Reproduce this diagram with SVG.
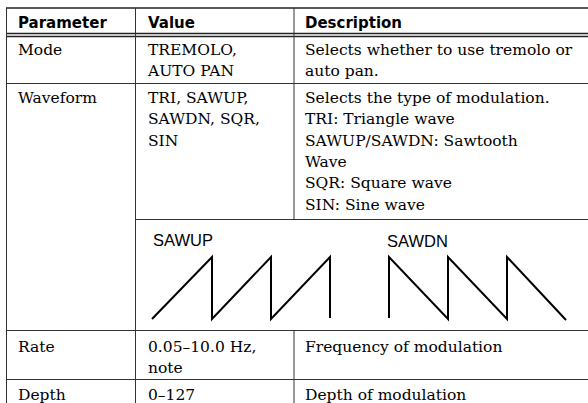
<svg xmlns="http://www.w3.org/2000/svg" width="588" height="403" viewBox="0 0 588 403">
<style>
.grid{stroke:#333;stroke-width:1;fill:none}
.hd{stroke:#222;stroke-width:1.3;fill:none}
.h{font-family:"DejaVu Sans",sans-serif;font-weight:bold;font-size:15px;fill:#000}
.t{font-family:"DejaVu Serif","Liberation Serif",serif;font-size:15.5px;fill:#000}
.lbl{font-family:"Liberation Sans",Arial,sans-serif;font-size:16.5px;fill:#000}
.wave{stroke:#000;stroke-width:2;fill:none;stroke-linejoin:miter}
</style>
<rect width="588" height="403" fill="#fff"/>
<g id="grid">
<line class="hd" x1="6" y1="8" x2="588" y2="8"/>
<line class="hd" x1="6" y1="33.5" x2="588" y2="33.5"/>
<line class="hd" x1="6" y1="36.5" x2="588" y2="36.5"/>
<line class="grid" x1="6" y1="83.5" x2="588" y2="83.5"/>
<line class="grid" x1="135.5" y1="219.5" x2="588" y2="219.5"/>
<line class="grid" x1="6" y1="330.5" x2="588" y2="330.5"/>
<line class="grid" x1="6" y1="379.5" x2="588" y2="379.5"/>
<line class="grid" x1="6.5" y1="8" x2="6.5" y2="403"/>
<line class="grid" x1="135.5" y1="8" x2="135.5" y2="403"/>
<line class="grid" x1="294" y1="8" x2="294" y2="219.5"/>
<line class="grid" x1="294" y1="330.5" x2="294" y2="403"/>
</g>
<g id="header">
<text class="h" x="18" y="27.5">Parameter</text>
<text class="h" x="148" y="27.5">Value</text>
<text class="h" x="305" y="27.5">Description</text>
</g>
<g id="row-mode">
<text class="t" x="18" y="55">Mode</text>
<text class="t" x="148" y="55">TREMOLO,</text>
<text class="t" x="148" y="76">AUTO PAN</text>
<text class="t" x="305" y="55">Selects whether to use tremolo or</text>
<text class="t" x="305" y="76">auto pan.</text>
</g>
<g id="row-waveform">
<text class="t" x="18" y="103">Waveform</text>
<text class="t" x="148" y="103">TRI, SAWUP,</text>
<text class="t" x="148" y="124.3">SAWDN, SQR,</text>
<text class="t" x="148" y="145.6">SIN</text>
<text class="t" x="305" y="103">Selects the type of modulation.</text>
<text class="t" x="305" y="124.3">TRI: Triangle wave</text>
<text class="t" x="305" y="145.6">SAWUP/SAWDN: Sawtooth</text>
<text class="t" x="305" y="167">Wave</text>
<text class="t" x="305" y="188.3">SQR: Square wave</text>
<text class="t" x="305" y="209.6">SIN: Sine wave</text>
</g>
<g id="sawup">
<text class="lbl" x="153" y="246">SAWUP</text>
<polyline class="wave" points="152,319 212,257 212,319 271,257 271,319 330,257 330,318"/>
</g>
<g id="sawdn">
<text class="lbl" x="387" y="247">SAWDN</text>
<polyline class="wave" points="389,318 389,257 448,319 448,257 507,319 507,257 566,320"/>
</g>
<g id="row-rate">
<text class="t" x="18" y="352">Rate</text>
<text class="t" x="148" y="352">0.05–10.0 Hz,</text>
<text class="t" x="148" y="373">note</text>
<text class="t" x="305" y="352">Frequency of modulation</text>
</g>
<g id="row-depth">
<text class="t" x="18" y="400">Depth</text>
<text class="t" x="148" y="400">0–127</text>
<text class="t" x="305" y="400">Depth of modulation</text>
</g>
</svg>
